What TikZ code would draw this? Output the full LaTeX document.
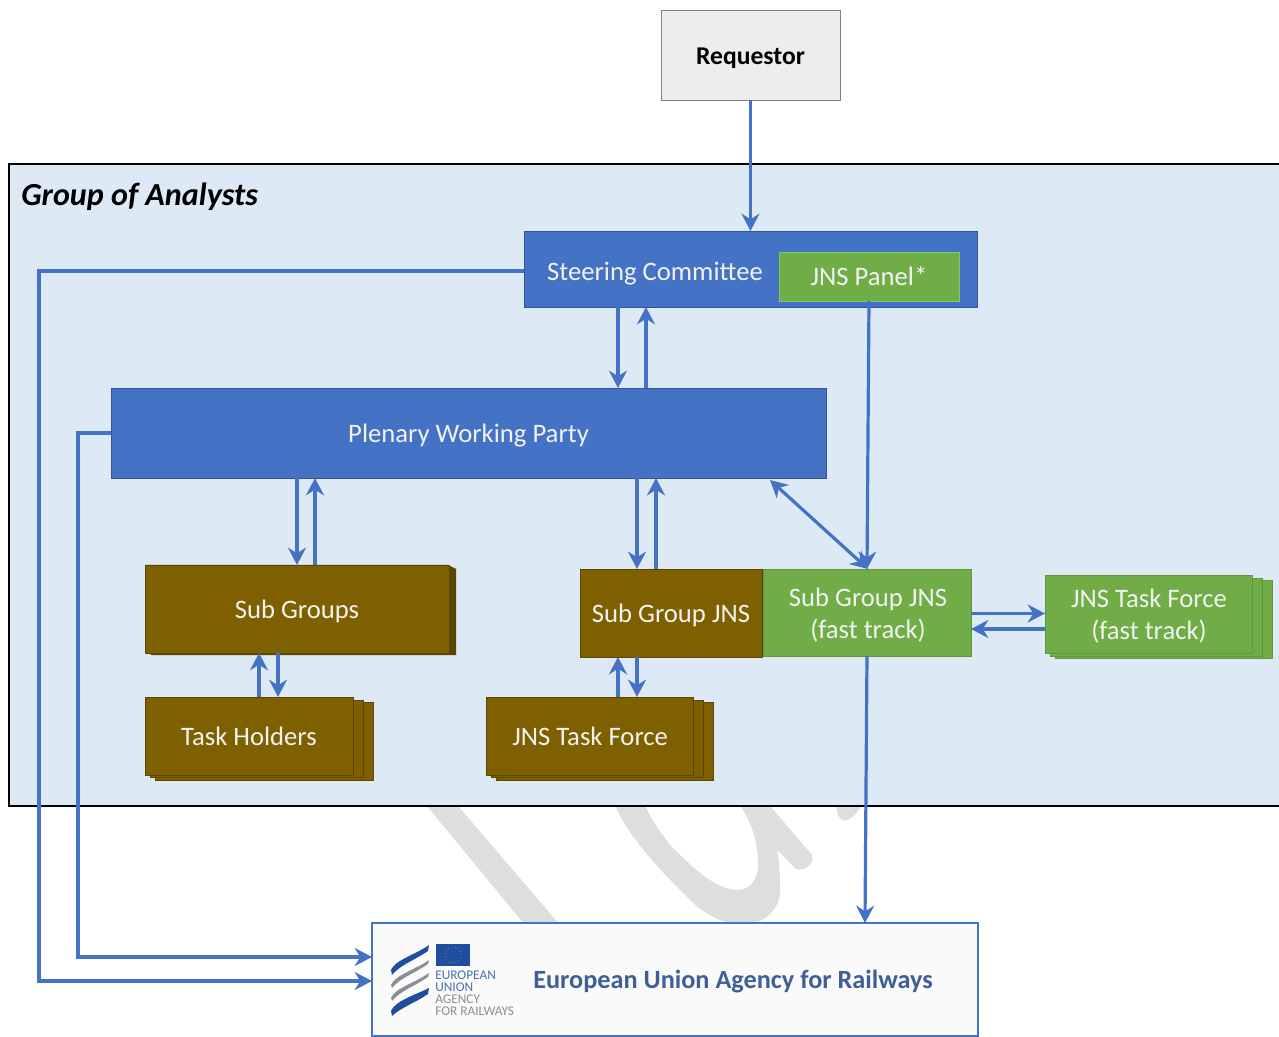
\documentclass[tikz,border=0pt]{standalone}
\usepackage{fontspec}
\setmainfont{Carlito}
\usetikzlibrary{arrows.meta,calc}
\definecolor{panel}{HTML}{DEE9F6}
\definecolor{bluebox}{HTML}{4472C4}
\definecolor{blueedge}{HTML}{2F5597}
\definecolor{brownbox}{HTML}{7F6000}
\definecolor{brownedge}{HTML}{5C4600}
\definecolor{greenbox}{HTML}{70AD47}
\definecolor{greenedge}{HTML}{5F9A3A}
\definecolor{wm}{HTML}{DEDEDE}
\definecolor{eradark}{HTML}{3F5F96}
\definecolor{erablue}{HTML}{1F4E9E}
\definecolor{eragrey}{HTML}{8A8F96}
\tikzset{
  x=0.75pt,y=-0.75pt,
  flow/.style={draw=bluebox,line width=2.4pt,-{Stealth[length=13pt,width=13.5pt]}},
  flowboth/.style={draw=bluebox,line width=2.4pt,{Stealth[length=13pt,width=13.5pt]}-{Stealth[length=13pt,width=13.5pt]}},
  boxbase/.style={inner sep=0pt,outer sep=0pt,align=center,font=\fontsize{20pt}{24pt}\selectfont,text=white!95!black,line width=0.6pt},
  oneline/.style={text height=16pt,text depth=2pt},
  bluestyle/.style={boxbase,oneline,fill=bluebox,draw=blueedge},
  brownstyle/.style={boxbase,oneline,fill=brownbox,draw=brownedge},
  greenstyle/.style={boxbase,fill=greenbox,draw=greenedge},
}
\newcommand{\rectnode}[6]{%
  \node[#1,minimum width=\the\dimexpr(#5pt-#3pt)*3/4\relax,minimum height=\the\dimexpr(#6pt-#4pt)*3/4\relax] (#2) at ({(#3+#5)/2},{(#4+#6)/2}) }
\begin{document}
\begin{tikzpicture}
\useasboundingbox (0,0) rectangle (1279,1037);
\clip (0,0) rectangle (1279,1037);
\fill[white] (0,0) rectangle (1279,1037);

% watermark
\fill[wm] (422,800) -- (453,800) -- (560,925) -- (525,925) -- cycle;
\fill[wm] (613,800) .. controls (625,835) and (665,875) .. (690,900)
  .. controls (705,915) and (725,925) .. (745,925)
  .. controls (770,922) and (782,905) .. (780,885)
  .. controls (780,870) and (779,860) .. (777,850) -- (795,868)
  .. controls (802,873) and (815,865) .. (812,855) -- (765,800) -- (736,800)
  .. controls (748,815) and (757,835) .. (758,860)
  .. controls (759,880) and (750,890) .. (737,890)
  .. controls (715,890) and (690,865) .. (670,845)
  .. controls (660,832) and (648,815) .. (643,800) -- cycle;
\fill[wm] (835,800) -- (838,815) .. controls (843,824) and (850,822) .. (860,808) -- (862,800) -- cycle;

% group panel
\node[draw=black,fill=panel,line width=1.6pt,inner sep=0pt,minimum width=962pt,minimum height=481.5pt,anchor=north west] (group) at (8,163) {};
\node[anchor=west,inner sep=0pt,font=\fontsize{24.1pt}{28pt}\selectfont\bfseries\itshape,text=black] (grouplabel) at (21,197) {Group of Analysts};

% requestor
\rectnode{boxbase,oneline,fill=black!7,draw=black!50,text=black,font=\fontsize{19.2pt}{24pt}\selectfont\bfseries}{req}{661}{10}{840}{100} {Requestor};

% steering
\rectnode{bluestyle}{steer}{524}{231}{977}{307} {};
\node[boxbase,oneline] (steerlabel) at (655,271) {Steering Committee};
\rectnode{boxbase,oneline,fill=greenbox,draw=green!25!greenbox!80!white}{panelj}{779}{252}{959}{301} {JNS Panel*};

% plenary
\rectnode{bluestyle}{plen}{111}{388}{826}{478} {Plenary Working Party};

% sub groups
\fill[brownedge] (145,565) -- (448,565) -- (456,569) -- (456,655) -- (152,655) -- (145,652) -- cycle;
\rectnode{brownstyle}{subg}{145}{565}{449}{653} {Sub Groups};

% task holders
\rectnode{brownstyle}{th3}{155}{702}{373}{780} {};
\rectnode{brownstyle}{th2}{150}{700}{363}{777} {};
\rectnode{brownstyle}{th}{145}{697}{353}{775} {Task Holders};

% JNS task force
\rectnode{brownstyle}{tf3}{496}{702}{713}{780} {};
\rectnode{brownstyle}{tf2}{491}{700}{703}{777} {};
\rectnode{brownstyle}{tf}{486}{697}{693}{775} {\hspace*{1pt}JNS Task Force};

% sub group JNS
\rectnode{brownstyle}{sgj}{580}{569}{762}{657} {Sub Group JNS};
\rectnode{greenstyle}{sgf}{763}{569}{971}{656} {};
\node[boxbase] (sgflabel) at (868,615.5) {Sub Group JNS\\(fast track)};

% fast track task force
\rectnode{greenstyle}{ft3}{1055}{580}{1272}{658} {};
\rectnode{greenstyle}{ft2}{1050}{578}{1262}{656} {};
\rectnode{greenstyle}{ft}{1045}{575}{1252}{653} {};
\node[boxbase] (ftlabel) at (1149,616) {JNS Task Force\\(fast track)};

% agency box
\rectnode{boxbase,fill=black!2,draw=bluebox,line width=1pt}{era}{372}{923}{978}{1036} {};
\node[anchor=west,inner sep=0pt,font=\fontsize{19.7pt}{22pt}\selectfont\bfseries,text=eradark] (eralabel) at (533,982) {European Union Agency for Railways};

% logo
\fill[erablue] (391,970) .. controls (395,960) and (415,955) .. (429,945) -- (428,951) .. controls (415,960) and (400,965) .. (392,975) -- cycle;
\fill[eragrey] (391,985) .. controls (395,975) and (415,970) .. (429,960) -- (428,964) .. controls (415,973) and (400,978) .. (392,988) -- cycle;
\fill[eragrey] (391,998) .. controls (395,988) and (415,983) .. (429,973) -- (428,977) .. controls (415,986) and (400,991) .. (392,1001) -- cycle;
\fill[erablue] (391,1011) .. controls (395,1001) and (415,995) .. (429,988) -- (428,994) .. controls (415,1003) and (400,1008) .. (392,1016) -- cycle;
\node[fill=erablue,inner sep=0pt,minimum width=25pt,minimum height=17pt] (flag) at (453,955) {};
\draw[yellow!70!black,line width=0.5pt,dotted] (flag) circle (6pt);
\node[anchor=north west,inner sep=0pt,align=left,font=\fontsize{10pt}{9pt}\selectfont] (logotext) at (435,971)
 {\textcolor{erablue!80!white}{EUROPEAN}\\\textcolor{erablue!80!white}{UNION}\\\textcolor{eragrey}{AGENCY}\\\textcolor{eragrey}{FOR RAILWAYS}};

% helper coordinates
\coordinate (a) at (618,0);
\coordinate (b) at (646,0);
\coordinate (c) at (297,0);
\coordinate (d) at (315,0);
\coordinate (e) at (637,0);
\coordinate (f) at (656,0);
\coordinate (g) at (259,0);
\coordinate (h) at (278,0);
\coordinate (i) at (618,0);
\coordinate (j) at (39,0);
\coordinate (k) at (78,0);
\coordinate (ya) at (0,957);
\coordinate (yb) at (0,981);
\coordinate (yc) at (0,613.5);
\coordinate (yd) at (0,629);
\coordinate (pl) at (770,480);
\coordinate (pr) at (868,569);

% connectors
\draw[flow] (req.south) -- (req.south |- steer.north);
\draw[flow] (a |- steer.south) -- (a |- plen.north);
\draw[flow] (b |- plen.north) -- (b |- steer.south);
\draw[flow] (c |- plen.south) -- (c |- subg.north);
\draw[flow] (d |- subg.north) -- (d |- plen.south);
\draw[flow] (e |- plen.south) -- (e |- sgj.north);
\draw[flow] (f |- sgj.north) -- (f |- plen.south);
\draw[flowboth] (pl) -- (pr);
\draw[flow] (panelj.south) -- (sgf.north);
\draw[flow] (sgf.south) -- (865,923);
\draw[flow] (sgf.east |- yc) -- (ft.west |- yc);
\draw[flow] (ft.west |- yd) -- (sgf.east |- yd);
\draw[flow] (g |- th.north) -- (g |- subg.south);
\draw[flow] (h |- subg.south) -- (h |- th.north);
\draw[flow] (i |- tf.north) -- (i |- sgj.south);
\draw[flow] (e |- sgj.south) -- (e |- tf.north);
\draw[flow] (steer.west |- steerlabel) -- (j |- steerlabel) -- (j |- yb) -- (era.west |- yb);
\draw[flow] (plen.west) -- (k |- plen.west) -- (k |- ya) -- (era.west |- ya);
\end{tikzpicture}
\end{document}
